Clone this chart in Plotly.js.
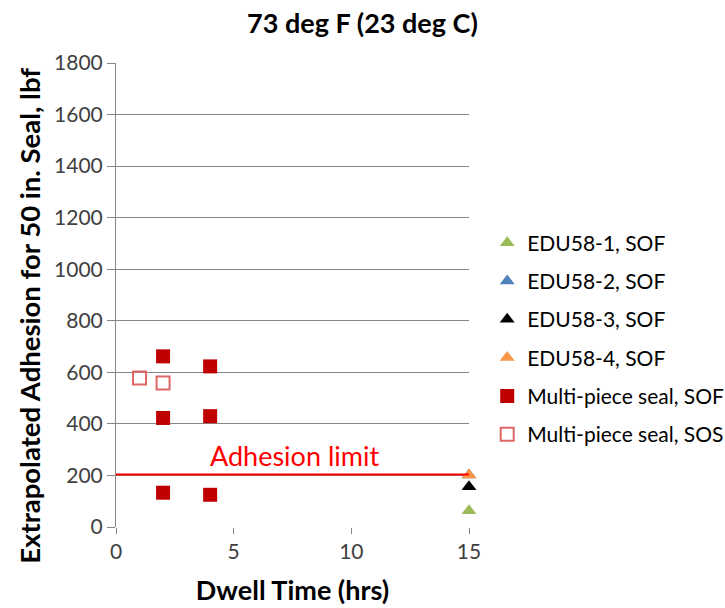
<!DOCTYPE html>
<html><head><meta charset="utf-8">
<script src="https://cdn.plot.ly/plotly-3.0.1.min.js"></script>
<style>body{margin:0;background:#fff}#chart{width:725px;height:608px}</style>
</head><body><div id="chart"></div>
<script>
const edu1X = [15], edu1Y = [63];
const edu2X = [15], edu2Y = [202];
const edu3X = [15], edu3Y = [156];
const edu4X = [15], edu4Y = [202];
const mpSofX = [2, 2, 2, 4, 4, 4];
const mpSofY = [662, 423, 133, 623, 430, 125];
const mpSosX = [1, 2];
const mpSosY = [578, 559];
const adhesionLimit = 204;
const names = ["EDU58-1, SOF","EDU58-2, SOF","EDU58-3, SOF","EDU58-4, SOF","Multi-piece seal, SOF","Multi-piece seal, SOS"];
const yTitle = "Extrapolated Adhesion for 50 in. Seal, lbf";

const FONT = "Lato, 'Liberation Sans', sans-serif";
const tri = (x,y,name,color,g)=>({x,y,name,type:'scatter',mode:'markers',cliponaxis:false,legendgroup:g,
  marker:{symbol:'triangle-up',size:13,color}});
const traces = [
  tri(edu1X,edu1Y,names[0],'#9BBB59','a'),
  tri(edu2X,edu2Y,names[1],'#4F81BD','b'),
  tri(edu3X,edu3Y,names[2],'#000000','c'),
  tri(edu4X,edu4Y,names[3],'#F79646','d'),
  {x:mpSofX,y:mpSofY,name:names[4],type:'scatter',mode:'markers',cliponaxis:false,legendgroup:'e',
   marker:{symbol:'square',size:14,color:'#C00000'}},
  {x:mpSosX,y:mpSosY,name:names[5],type:'scatter',mode:'markers',cliponaxis:false,legendgroup:'f',
   marker:{symbol:'square-open',size:13,color:'#E06666',line:{width:2}}}
];
const layout = {
  width:725,height:608,
  margin:{l:116,r:256,t:63,b:81},
  paper_bgcolor:'#fff',plot_bgcolor:'#fff',
  font:{family:FONT,size:20,color:'#404040'},
  title:{text:'<b>73 deg F (23 deg C)</b>',x:0.5,xref:'container',y:0.962,yanchor:'middle',
    font:{family:FONT,size:27,color:'#000'}},
  xaxis:{range:[0,15],tickvals:[0,5,10,15],showgrid:false,zeroline:false,showline:false,
    ticks:'outside',ticklen:6,tickcolor:'#868686',tickfont:{size:21,color:'#404040'},
    title:{text:'<b>Dwell Time (hrs)</b>',font:{family:FONT,size:27,color:'#000'},standoff:18}},
  yaxis:{range:[0,1800],dtick:200,showgrid:true,gridcolor:'#868686',gridwidth:1,zeroline:false,
    showline:true,linecolor:'#868686',ticks:'outside',ticklen:8,tickcolor:'#868686',
    tickfont:{size:21,color:'#404040'}},
  shapes:[{type:'line',xref:'x',yref:'y',x0:0,x1:15,y0:adhesionLimit,y1:adhesionLimit,line:{color:'#FF0000',width:2}}],
  annotations:[
    {text:'Adhesion limit',xref:'x',yref:'y',x:7.57,y:adhesionLimit+72,showarrow:false,
     font:{family:FONT,size:27,color:'#FF0000'}},
    {text:'<b>'+yTitle+'</b>',xref:'paper',yref:'paper',x:-0.244,y:0.455,textangle:-90,showarrow:false,
     xanchor:'center',yanchor:'middle',font:{family:FONT,size:27.5,color:'#000'}}
  ],
  legend:{xref:'container',yref:'container',x:0.672,xanchor:'left',y:0.634,yanchor:'top',
    font:{size:21,color:'#000'},tracegroupgap:8,bgcolor:'rgba(0,0,0,0)'},
  showlegend:true
};
Plotly.newPlot('chart',traces,layout,{displayModeBar:false,staticPlot:true});
</script></body></html>
